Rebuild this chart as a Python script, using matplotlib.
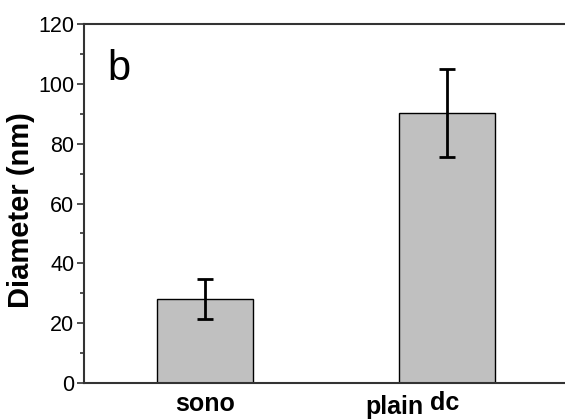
import matplotlib.pyplot as plt
import numpy as np

plt.rcParams['font.family'] = ['Liberation Sans', 'DejaVu Sans']

categories = ["sono", "plain dc"]
diameter = [28.0, 90.2]
err = [6.6, 14.7]

fig = plt.figure(figsize=(5.65, 4.19), dpi=100)
ax = fig.add_axes([0.1487, 0.0859, 0.8566, 0.8568])

x = np.arange(len(categories))
ax.bar(x, diameter, width=0.4, color="#c0c0c0", edgecolor="black", linewidth=1.0, zorder=2)
ax.errorbar(x, diameter, yerr=err, fmt="none", ecolor="black", elinewidth=2,
            capsize=5.8, capthick=2, zorder=3)

ax.set_xlim(-0.5, 1.5)
ax.set_ylim(0, 120)
ax.set_yticks(np.arange(0, 121, 20))
ax.set_yticks(np.arange(10, 120, 20), minor=True)
ax.tick_params(axis="y", which="major", direction="out", length=5, width=1.2,
               labelsize=15.5, color="#333333", pad=2)
ax.tick_params(axis="y", which="minor", direction="out", length=3, width=1.2, color="#333333")
ax.set_xticks([])

for side in ["left", "bottom", "top"]:
    ax.spines[side].set_color("#333333")
    ax.spines[side].set_linewidth(1.5)
ax.spines["right"].set_visible(False)

# x labels (the second one sits off-centre with "dc" raised, as in the original)
tr = ax.get_xaxis_transform()
ax.text(x[0], -0.078, categories[0], transform=tr,
        ha="center", va="baseline", fontsize=18, fontweight="bold")
word1, word2 = categories[1].split()
ax.text(x[1] - 0.339, -0.0864, word1, transform=tr, ha="left", va="baseline",
        fontsize=18, fontweight="bold")
ax.text(x[1] - 0.07, -0.075, word2, transform=tr, ha="left", va="baseline",
        fontsize=18, fontweight="bold")

ax.text(0.0475, 0.844, "b", transform=ax.transAxes, fontsize=30, va="baseline", ha="left")

fig.text(21 / 565, (419 - 210) / 419, "Diameter (nm)", rotation=90, ha="center", va="center",
         fontsize=21, fontweight="bold")

fig.savefig("out.png", dpi=100)
